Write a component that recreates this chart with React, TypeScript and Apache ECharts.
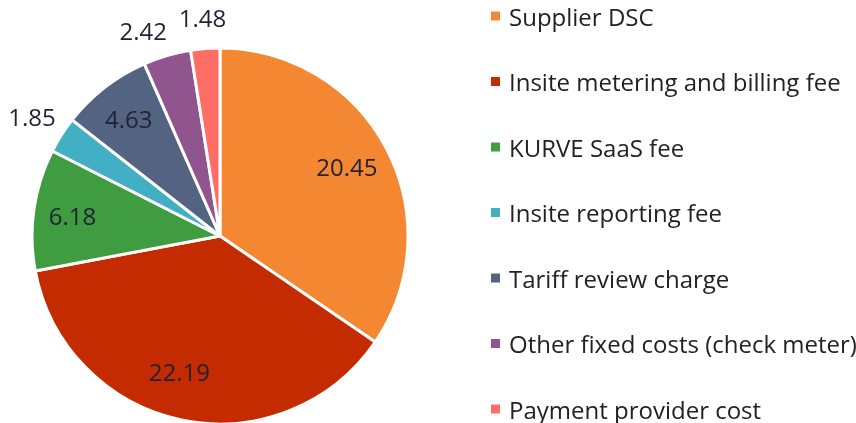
import React, { useEffect, useRef } from "react";
import * as echarts from "echarts";

const categories = [
  "Supplier DSC",
  "Insite metering and billing fee",
  "KURVE SaaS fee",
  "Insite reporting fee",
  "Tariff review charge",
  "Other fixed costs (check meter)",
  "Payment provider cost",
];
const values = [20.45, 22.19, 6.18, 1.85, 4.63, 2.42, 1.48];
const colors = ["#f48731", "#c42b00", "#3f9c40", "#43afc5", "#546381", "#90558f", "#fe6e66"];
const outsideLabel = [false, false, false, true, false, true, true];

export default function App() {
  const ref = useRef<HTMLDivElement>(null);
  useEffect(() => {
    if (!ref.current) return;
    const chart = echarts.init(ref.current, null, { renderer: "svg" });
    const font = "'Open Sans', sans-serif";
    const labelColor = "#1f2238";
    const center = [220, 236];
    const base = values.map((v, i) => ({
      name: categories[i],
      value: v,
      itemStyle: { color: colors[i] },
    }));
    const nudges: Record<number, { dx: number; dy: number }> = {
      0: { dx: -5, dy: 0 },
      1: { dx: -10, dy: -10 },
      5: { dx: -14, dy: 8 },
      6: { dx: 0, dy: 4 },
    };
    const labelSeries = (radius: number[], outside: boolean) => ({
      type: "pie",
      center,
      radius,
      startAngle: 90,
      silent: true,
      avoidLabelOverlap: false,
      labelLine: { show: false },
      itemStyle: { color: "rgba(0,0,0,0)", borderWidth: 0 },
      emphasis: { disabled: true },
      labelLayout: (params: any) => nudges[params.dataIndex] || {},
      data: values.map((v, i) => ({
        name: categories[i],
        value: v,
        itemStyle: { color: "rgba(0,0,0,0)" },
        label: {
          show: outsideLabel[i] === outside,
          position: "inside",
          formatter: "{c}",
          color: labelColor,
          fontSize: 24,
          fontFamily: font,
        },
      })),
    });
    chart.setOption({
      animation: false,
      legend: {
        orient: "vertical",
        left: 489,
        top: 4,
        padding: 0,
        data: categories,
        icon: "rect",
        itemWidth: 11,
        itemHeight: 11,
        itemGap: 41.5,
        selectedMode: false,
        textStyle: {
          fontSize: 24,
          fontFamily: font,
          color: "#222222",
          lineHeight: 24,
          padding: [0, 0, 0, 3],
        },
      },
      series: [
        {
          type: "pie",
          center,
          radius: [0, 188],
          startAngle: 90,
          label: { show: false },
          labelLine: { show: false },
          itemStyle: { borderColor: "#ffffff", borderWidth: 3 },
          emphasis: { disabled: true },
          data: base,
        },
        labelSeries([104, 188], false),
        labelSeries([188, 252], true),
      ],
    });
    return () => chart.dispose();
  }, []);
  return (
    <div
      ref={ref}
      style={{ position: "fixed", left: 0, top: 0, width: 856, height: 423 }}
    />
  );
}
